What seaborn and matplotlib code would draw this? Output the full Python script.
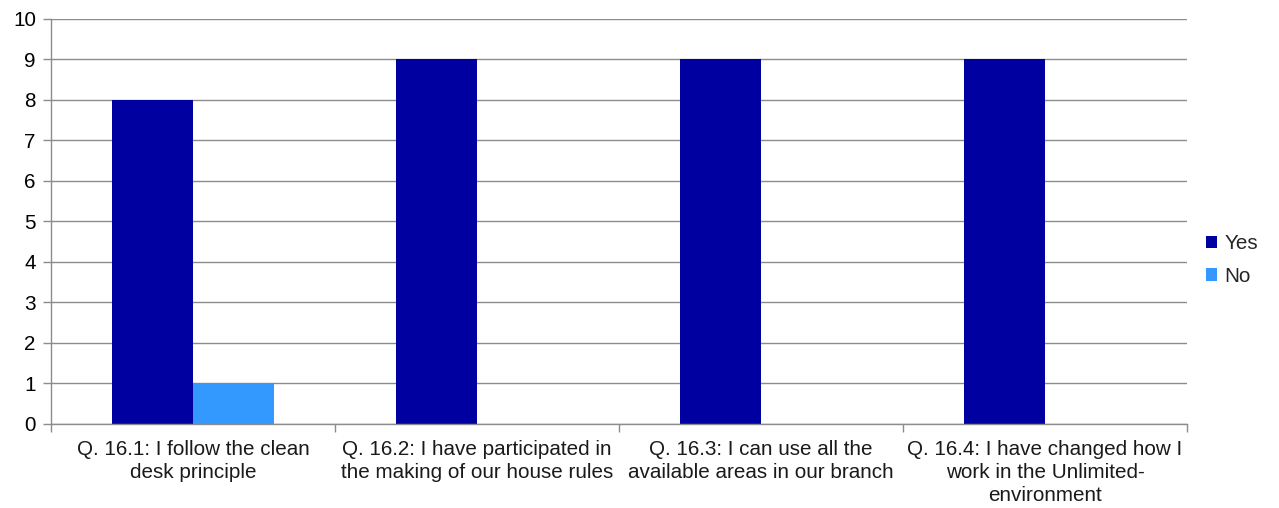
import matplotlib
matplotlib.use("Agg")
import matplotlib.pyplot as plt
import seaborn as sns
import pandas as pd

questions = [
    "Q. 16.1: I follow the clean\ndesk principle",
    "Q. 16.2: I have participated in\nthe making of our house rules",
    "Q. 16.3: I can use all the\navailable areas in our branch",
    "Q. 16.4: I have changed how I\nwork in the Unlimited-\nenvironment",
]
yes_counts = [8, 9, 9, 9]
no_counts = [1, 0, 0, 0]
answers = ["Yes", "No"]
y_ticks = list(range(0, 11))

df = pd.DataFrame({
    "question": questions * 2,
    "answer": ["Yes"] * len(questions) + ["No"] * len(questions),
    "count": yes_counts + no_counts,
})

sns.set_theme(style="white")
plt.rcParams["font.family"] = ["Liberation Sans", "DejaVu Sans"]

FS = 14.9

fig = plt.figure(figsize=(12.79, 5.08), dpi=100)
ax = fig.add_axes([0.0399, 0.1654, 0.8882, 0.7972])

palette = {"Yes": "#0000A0", "No": "#3399FF"}
sns.barplot(data=df, x="question", y="count", hue="answer", hue_order=answers,
            order=questions, palette=palette, width=0.57, saturation=1,
            edgecolor="none", linewidth=0, ax=ax)

ax.set_xlim(-0.5, len(questions) - 0.5)
ax.set_ylim(0, 10)
ax.set_yticks(y_ticks)
ax.set_yticklabels([str(t) for t in y_ticks], fontsize=FS, color="#000000")
ax.yaxis.grid(True, color="#8c8c8c", linewidth=1)
ax.set_axisbelow(True)

# category separators as major ticks, labels centred as minor ticks
ax.set_xticks([i - 0.5 for i in range(len(questions) + 1)])
ax.set_xticklabels([])
ax.set_xticks(range(len(questions)), minor=True)
ax.set_xticklabels(questions, minor=True, fontsize=FS, color="#1a1a1a",
                   linespacing=1.27)
ax.tick_params(axis="x", which="major", length=6, width=1, color="#8c8c8c",
               direction="out", bottom=True)
ax.tick_params(axis="x", which="minor", length=0, pad=11.5)
ax.tick_params(axis="y", length=6, width=1, color="#8c8c8c", direction="out",
               left=True, pad=5)

for side in ["top", "right"]:
    ax.spines[side].set_visible(False)
for side in ["left", "bottom"]:
    ax.spines[side].set_color("#8c8c8c")
    ax.spines[side].set_linewidth(1)

ax.set_xlabel("")
ax.set_ylabel("")

handles, labels = ax.get_legend_handles_labels()
ax.legend(handles, labels, loc="center left", bbox_to_anchor=(1.0, 0.405),
          frameon=False, fontsize=FS, handlelength=0.55, handleheight=0.55,
          handletextpad=0.35, labelspacing=0.65)

fig.savefig("out.png", dpi=100)
